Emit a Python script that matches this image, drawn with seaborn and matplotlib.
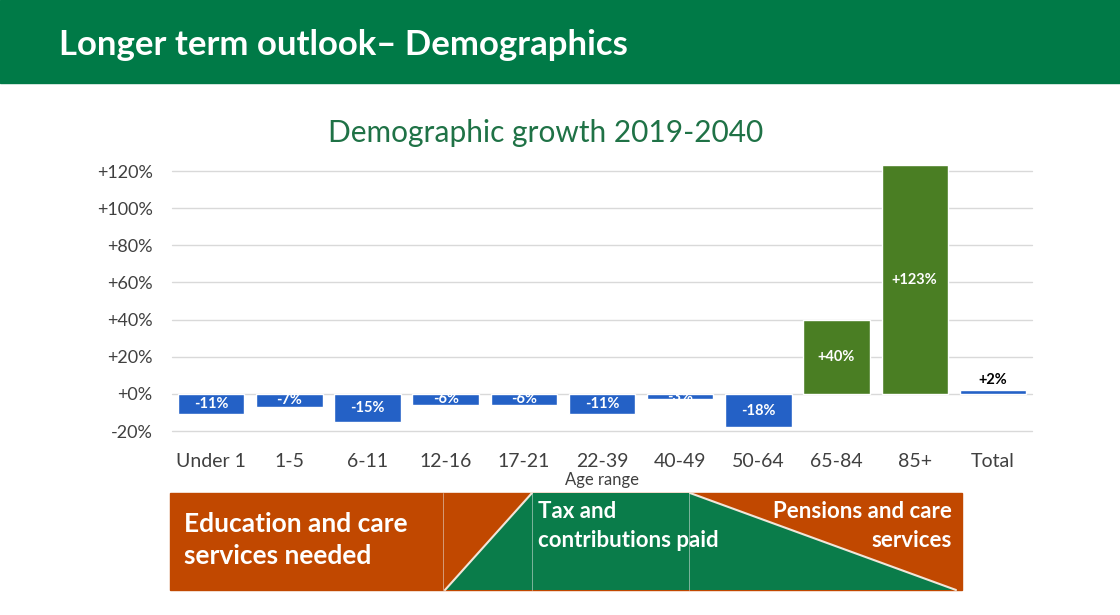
import matplotlib
matplotlib.use("Agg")
import matplotlib.pyplot as plt
from matplotlib.patches import Polygon, Rectangle
import seaborn as sns
import pandas as pd

age_groups = ["Under 1", "1-5", "6-11", "12-16", "17-21", "22-39",
              "40-49", "50-64", "65-84", "85+", "Total"]
growth = [-11, -7, -15, -6, -6, -11, -3, -18, 40, 123, 2]
bar_group = ["young", "young", "young", "young", "young", "young",
             "young", "young", "old", "old", "total"]
y_ticks = [-20, 0, 20, 40, 60, 80, 100, 120]

blue = "#2461C6"
green_bar = "#4A7E23"
header_green = "#007A47"
orange = "#C14800"
banner_green = "#0A7C4A"

sns.set_theme(style="white")
plt.rcParams["font.family"] = ["Lato", "DejaVu Sans"]

df = pd.DataFrame({"age": age_groups, "growth": growth, "group": bar_group})

fig = plt.figure(figsize=(11.2, 6.15), dpi=100)

# background decorations in pixel coordinates
bg = fig.add_axes([0, 0, 1, 1])
bg.set_xlim(0, 1120)
bg.set_ylim(615, 0)
bg.axis("off")
bg.add_patch(Rectangle((0, 0), 1120, 83, color=header_green))
bg.text(59, 45, "Longer term outlook\u2013 Demographics", color="white",
        fontsize=25, fontweight="bold", va="center", ha="left")

# bottom banner
bg.add_patch(Rectangle((170, 493), 792, 97, color=orange))
bg.add_patch(Polygon([(445, 590), (532, 493), (690, 493), (956, 590)],
                     closed=True, facecolor=banner_green, edgecolor="none"))
bg.plot([445, 532], [590, 493], color="#F2E6DA", lw=1.5)
bg.plot([690, 956], [493, 590], color="#F2E6DA", lw=1.5)
for xv in [443, 532, 689]:
    bg.plot([xv, xv], [493, 590], color="#E8E8E8", lw=0.6, alpha=0.6)
bg.text(184, 540, "Education and care\nservices needed", color="white",
        fontsize=19, fontweight="bold", va="center", ha="left", linespacing=1.45)
bg.text(538, 526, "Tax and\ncontributions paid", color="white",
        fontsize=16, fontweight="bold", va="center", ha="left", linespacing=1.5)
bg.text(952, 526, "Pensions and care\nservices", color="white",
        fontsize=16, fontweight="bold", va="center", ha="right", linespacing=1.45)

bg.text(546, 133, "Demographic growth 2019-2040", fontsize=21.5, color="#1F7246",
        ha="center", va="center")

# chart
px_per_pct = 260 / 140
top = 124
ax_h = (top + 20) * px_per_pct
ax = fig.add_axes([172 / 1120, 1 - 431 / 615, 860 / 1120, ax_h / 615])
sns.barplot(data=df, x="age", y="growth", hue="group",
            palette={"young": blue, "old": green_bar, "total": blue},
            dodge=False, width=0.85, legend=False, ax=ax, saturation=1)
ax.set_ylim(-20, top)
ax.set_yticks(y_ticks)
ax.set_yticklabels([f"{v:+d}%" if v != 0 else "+0%" for v in y_ticks])
ax.yaxis.grid(True, color="#D9D9D9", lw=1)
for gl in ax.get_ygridlines():
    gl.set_clip_on(False)
ax.set_axisbelow(True)
for s in ax.spines.values():
    s.set_visible(False)
ax.tick_params(axis="y", labelsize=13, colors="#404040", length=0, pad=14)
ax.tick_params(axis="x", labelsize=14, colors="#404040", length=0, pad=16)
ax.set_xlabel("Age range", fontsize=12, color="#404040", labelpad=1)
ax.set_ylabel("")

for i, v in enumerate(growth):
    lbl = f"{v:+d}%"
    if age_groups[i] == "Total":
        ax.text(i, v + 1.5, lbl, ha="center", va="bottom", fontsize=10.5,
                fontweight="bold", color="black")
    else:
        ax.text(i, v / 2, lbl, ha="center", va="center", fontsize=10.5,
                fontweight="bold", color="white")

fig.savefig("out.png", dpi=100)
